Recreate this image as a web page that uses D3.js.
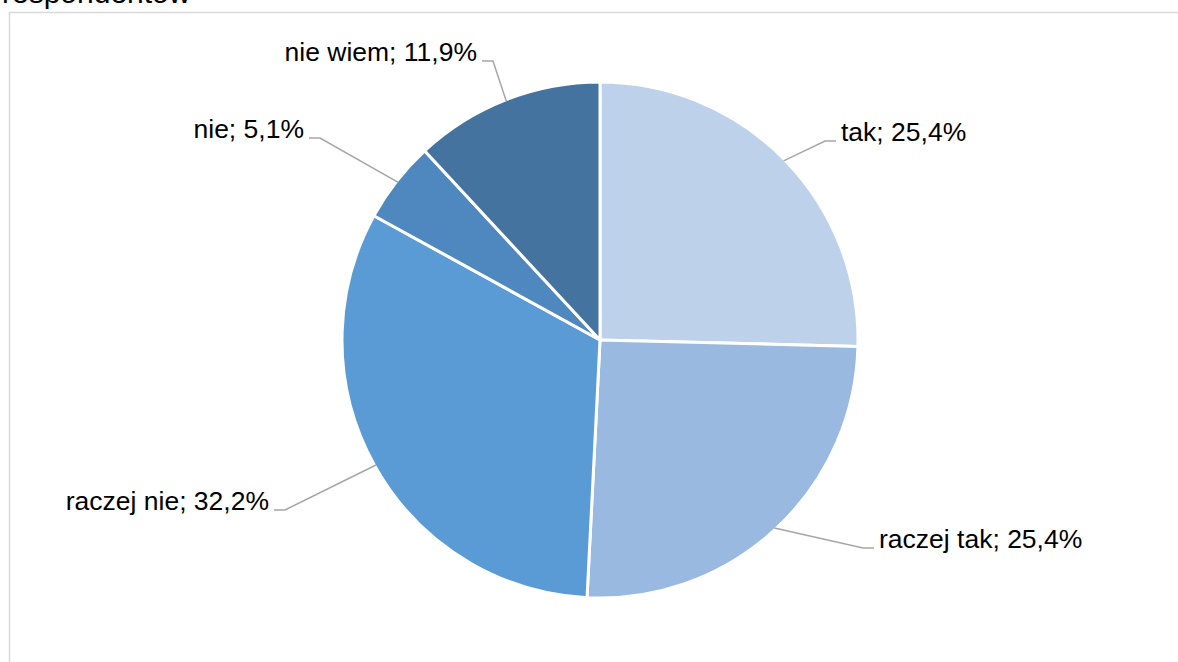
<!DOCTYPE html>
<html><head><meta charset="utf-8">
<script src="https://cdn.jsdelivr.net/npm/d3@7"></script>
<style>html,body{margin:0;padding:0;background:#fff;overflow:hidden}</style>
</head><body>
<svg id="chart" width="1178" height="662"></svg>
<script>
// ---- data ----
const categories = ["tak", "raczej tak", "raczej nie", "nie", "nie wiem"];
const values = [25.4, 25.4, 32.2, 5.1, 11.9];
const valueLabels = ["25,4%", "25,4%", "32,2%", "5,1%", "11,9%"];
const colors = ["#BDD1EA", "#9AB9E0", "#5B9BD5", "#4F88BF", "#44739F"];
const titleTail = "respondentów";

// ---- layout ----
const W = 1178, H = 662;
const cx = 600, cy = 340, R = 258;
// leader elbow points (relative to pie centre), and side of label
const elbows = [[225, -199, 1], [263, 208, 1], [-315, 170, -1], [-280, -202, -1], [-107, -279, -1]];

const svg = d3.select("#chart");
svg.append("rect").attr("x", 9.5).attr("y", 12.5).attr("width", W + 20).attr("height", H + 20)
  .attr("fill", "none").attr("stroke", "#D9D9D9").attr("stroke-width", 1.5);

svg.append("text").attr("x", 2).attr("y", 3).attr("font-family", "Liberation Sans, Arial, sans-serif")
  .attr("font-size", 30).attr("fill", "#000").text(titleTail);

const pie = d3.pie().sort(null).value(d => d)(values);
const arc = d3.arc().innerRadius(0).outerRadius(R);
const g = svg.append("g").attr("transform", `translate(${cx},${cy})`);

g.selectAll("path.slice").data(pie).join("path").attr("class", "slice")
  .attr("d", arc).attr("fill", (d, i) => colors[i])
  .attr("stroke", "#fff").attr("stroke-width", 3).attr("stroke-linejoin", "round");

const outer = d3.arc().innerRadius(R - 1.5).outerRadius(R - 1.5);
pie.forEach((d, i) => {
  const p0 = outer.centroid(d);
  const [ex, ey, side] = elbows[i];
  const endX = ex + side * 11;
  g.append("polyline")
    .attr("points", `${p0[0]},${p0[1]} ${ex},${ey} ${endX},${ey}`)
    .attr("fill", "none").attr("stroke", "#A6A6A6").attr("stroke-width", 1.5);
  g.append("text")
    .attr("x", endX + side * 5).attr("y", ey)
    .attr("text-anchor", side > 0 ? "start" : "end")
    .attr("font-family", "Liberation Sans, Arial, sans-serif")
    .attr("font-size", 26.5).attr("fill", "#000")
    .text(`${categories[i]}; ${valueLabels[i]}`);
});
</script>
</body></html>
